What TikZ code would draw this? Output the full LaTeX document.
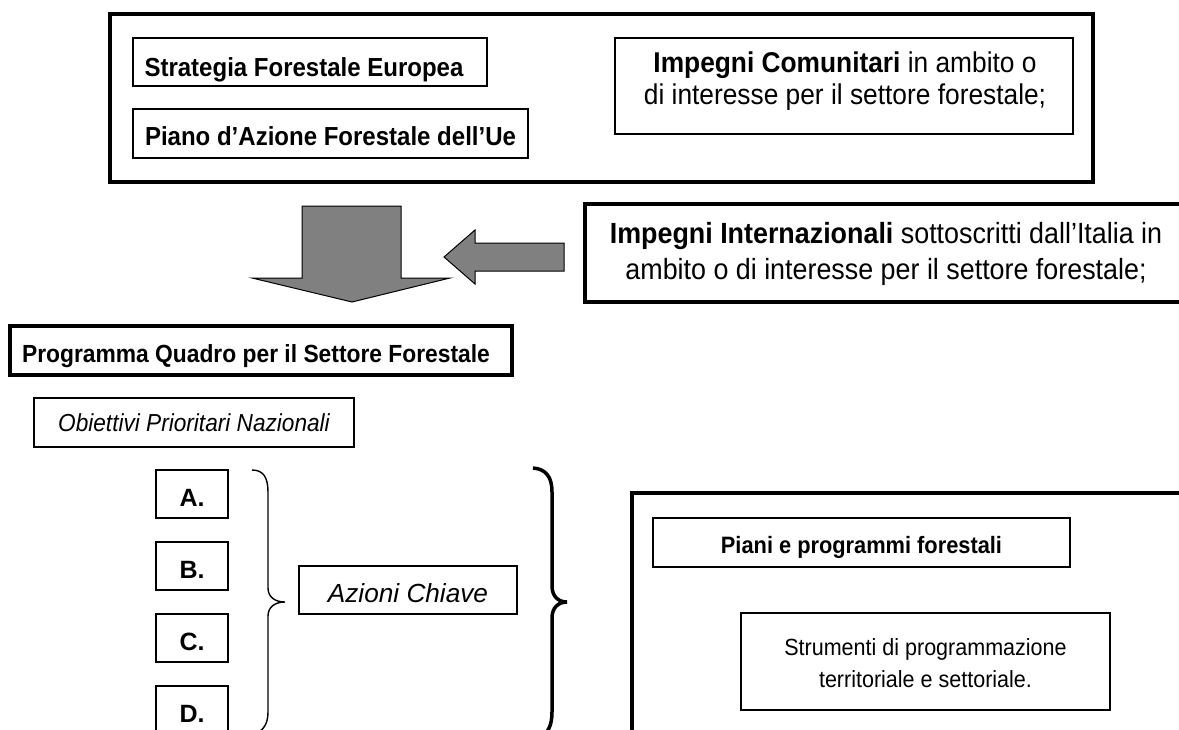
\documentclass[tikz,border=0pt]{standalone}
\usepackage{fontspec}
\setmainfont{Liberation Sans}
\newfontfamily\condf{Liberation Sans}[FakeStretch=0.92]
\definecolor{arrowgray}{HTML}{808080}
\newcommand\fsz[1]{\fontsize{#1pt}{#1pt}\selectfont}
\begin{document}
\begin{tikzpicture}[x=1pt,y=-1pt,
  thinbox/.style={draw, line width=1.4pt, inner sep=0pt},
  thickbox/.style={draw, line width=3.5pt, inner sep=0pt},
  lbl/.style={inner sep=0pt, anchor=base},
  mlbl/.style={inner sep=0pt, align=center},
  blockarrow/.style={draw, line width=1pt, fill=arrowgray, line join=miter},
  thinbrace/.style={draw, line width=1.4pt},
  thickbrace/.style={draw, line width=3.5pt},
]
\useasboundingbox (0,0) rectangle (1179,729);
\clip (0,0) rectangle (1179,729);

% ---- top group
\node[thickbox, minimum width=983pt, minimum height=168pt] (eu) at (601.5,98) {};
\node[thinbox, minimum width=354pt, minimum height=48pt] (strat) at (310,62) {};
\begin{scope}
  \clip (133,38) rectangle (487,81);
  \node[lbl, font=\condf\fsz{26.1}\bfseries] (strattxt) at (304,76) {Strategia Forestale Europea};
\end{scope}
\node[thinbox, minimum width=395pt, minimum height=49pt] (piano) at (330.5,133.5) {};
\node[lbl, font=\condf\fsz{26.1}\bfseries] (pianotxt) at (330.5,145) {Piano d’Azione Forestale dell’Ue};
\node[thinbox, minimum width=458pt, minimum height=96pt] (comun) at (844,86) {};
\node[mlbl, font=\condf\fontsize{28.6pt}{32pt}\selectfont] (comuntxt) at (845,81)
  {\textbf{Impegni Comunitari} in ambito o\\di interesse per il settore forestale;};

% ---- international commitments
\node[thickbox, minimum width=640pt, minimum height=98pt] (intl) at (905,253) {};
\node[mlbl, font=\condf\fontsize{29.2pt}{36pt}\selectfont] (intltxt) at (886,254)
  {\textbf{Impegni Internazionali} sottoscritti dall’Italia in\\ambito o di interesse per il settore forestale;};

% ---- block arrows
\path[blockarrow] (302,206) -- (401,206) -- (401,278) -- (450,278) -- (352,302)
  -- (252,278) -- (302,278) -- cycle;
\path[blockarrow] (564,243) -- (475,243) -- (475,230) -- (444,257) -- (475,284)
  -- (475,271) -- (564,271) -- cycle;

% ---- programme
\node[thickbox, minimum width=502pt, minimum height=49pt] (prog) at (261,350.5) {};
\begin{scope}
  \clip (10,326) rectangle (512,367);
  \node[lbl, font=\condf\fsz{24.8}\bfseries] (progtxt) at (256,362) {Programma Quadro per il Settore Forestale};
\end{scope}
\node[thinbox, minimum width=320pt, minimum height=49pt] (obi) at (194,422.5) {};
\node[lbl, font=\condf\fsz{24.6}\itshape] (obitxt) at (194,431) {Obiettivi Prioritari Nazionali};

% ---- objectives A-D
\foreach \n/\l/\y in {oa/A/494, ob/B/566, oc/C/638, od/D/710}{
  \node[thinbox, minimum width=72pt, minimum height=48pt] (\n) at (192,\y) {};
  \node[lbl, font=\fsz{25}\bfseries] (\n txt) at (192,\y+12) {\l.};
}

% ---- braces
\path[thinbrace] (252,470) .. controls (263,470) and (268,477) .. (268,492)
  -- (268,588) .. controls (268,597) and (275,602) .. (285,602)
  .. controls (275,602) and (268,607) .. (268,616)
  -- (268,712) .. controls (268,726) and (262,732) .. (250,736);
\node[thinbox, minimum width=218pt, minimum height=48pt] (azioni) at (408,590) {};
\node[lbl, font=\fsz{26.2}\itshape] (azionitxt) at (408,602) {Azioni Chiave};
\path[thickbrace] (533,468) .. controls (546,469) and (552,477) .. (552,492)
  -- (552,586) .. controls (552,596) and (558,602) .. (567,602)
  .. controls (558,602) and (552,608) .. (552,618)
  -- (552,712) .. controls (552,726) and (548,733) .. (538,740);

% ---- plans
\node[thickbox, minimum width=600pt, minimum height=300pt] (planarea) at (932,643) {};
\node[thinbox, minimum width=417pt, minimum height=49pt] (piani) at (861.5,542.5) {};
\begin{scope}
  \clip (653,518) rectangle (1070,557);
  \node[lbl, font=\condf\fsz{23.7}\bfseries] (pianitxt) at (861.5,553) {Piani e programmi forestali};
\end{scope}
\node[thinbox, minimum width=369pt, minimum height=97pt] (strum) at (925.5,661.5) {};
\node[mlbl, font=\condf\fontsize{23.4pt}{32pt}\selectfont] (strumtxt) at (925.5,663)
  {Strumenti di programmazione\\territoriale e settoriale.};
\end{tikzpicture}
\end{document}
